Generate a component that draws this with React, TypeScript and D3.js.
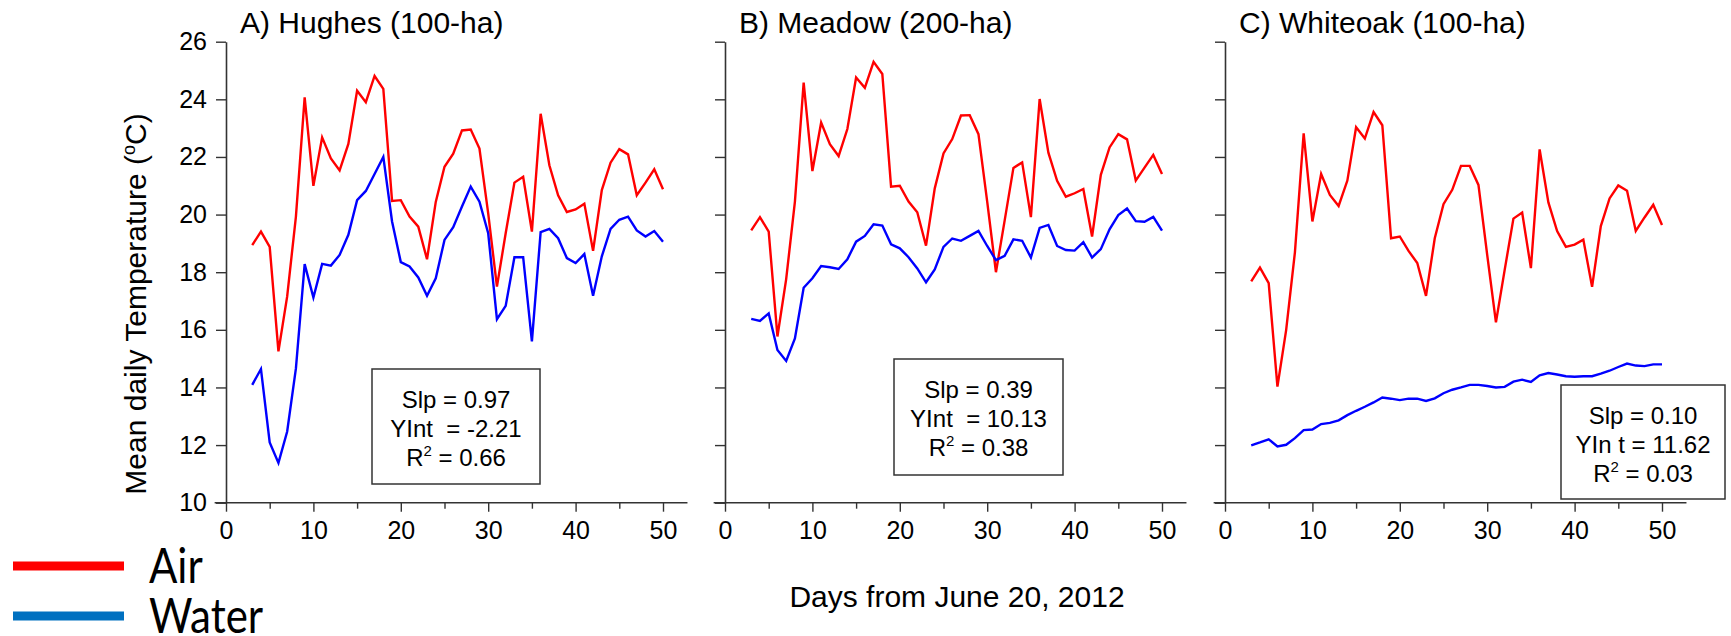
import { useEffect, useRef } from "react";
import * as d3 from "d3";

// chart size
const W = 1731;
const H = 636;

// days from June 20, 2012 (x values)
const days = [
  3, 4, 5, 6, 7, 8, 9, 10, 11, 12, 13, 14, 15, 16, 17, 18, 19, 20, 21, 22, 23, 24,
  25, 26, 27, 28, 29, 30, 31, 32, 33, 34, 35, 36, 37, 38, 39, 40, 41, 42, 43, 44, 45, 46, 47, 48, 49, 50,
];

const hughesAir = [
  18.94, 19.41, 18.88, 15.25, 17.16, 19.93, 24.07, 21.0, 22.68, 21.95, 21.53, 22.45, 24.3, 23.9, 24.81, 24.36, 20.47, 20.5, 19.93, 19.58, 18.45, 20.44,
  21.66, 22.11, 22.92, 22.95, 22.29, 20.04, 17.5, 19.35, 21.11, 21.31, 19.41, 23.5, 21.71, 20.67, 20.09, 20.18, 20.38, 18.74, 20.85, 21.8, 22.27, 22.09, 20.67, 21.11, 21.57, 20.88,
];
const hughesWater = [
  14.09, 14.64, 12.09, 11.38, 12.47, 14.66, 18.28, 17.12, 18.29, 18.23, 18.6, 19.3, 20.5, 20.82, 21.41, 22.0, 19.76, 18.35, 18.2, 17.82, 17.18, 17.79,
  19.12, 19.56, 20.28, 20.97, 20.45, 19.35, 16.37, 16.83, 18.52, 18.52, 15.6, 19.39, 19.5, 19.18, 18.49, 18.32, 18.63, 17.18, 18.55, 19.5, 19.82, 19.93, 19.45, 19.24, 19.43, 19.06,
];
const meadowAir = [
  19.45, 19.91, 19.41, 15.77, 17.76, 20.45, 24.58, 21.51, 23.19, 22.44, 22.03, 22.97, 24.76, 24.4, 25.3, 24.88, 20.97, 21.0, 20.45, 20.08, 18.92, 20.91,
  22.12, 22.62, 23.44, 23.45, 22.79, 20.45, 18.0, 19.8, 21.62, 21.81, 19.91, 24.01, 22.15, 21.17, 20.62, 20.74, 20.89, 19.24, 21.38, 22.33, 22.79, 22.61, 21.18, 21.63, 22.07, 21.41,
];
const meadowWater = [
  16.38, 16.31, 16.57, 15.3, 14.92, 15.7, 17.46, 17.79, 18.21, 18.17, 18.11, 18.45, 19.06, 19.26, 19.66, 19.62, 18.97, 18.83, 18.52, 18.13, 17.65, 18.1,
  18.88, 19.17, 19.09, 19.26, 19.43, 18.91, 18.42, 18.57, 19.14, 19.09, 18.51, 19.54, 19.64, 18.91, 18.77, 18.75, 19.04, 18.51, 18.8, 19.49, 19.98, 20.21, 19.77, 19.75, 19.92, 19.44,
];
const whiteoakAir = [
  17.68, 18.16, 17.62, 14.03, 16.0, 18.69, 22.82, 19.76, 21.41, 20.68, 20.3, 21.18, 23.03, 22.64, 23.56, 23.1, 19.18, 19.24, 18.74, 18.32, 17.18, 19.18,
  20.36, 20.86, 21.69, 21.69, 21.03, 18.6, 16.26, 18.08, 19.86, 20.07, 18.14, 22.26, 20.42, 19.43, 18.88, 18.96, 19.13, 17.49, 19.6, 20.56, 21.01, 20.83, 19.43, 19.9, 20.34, 19.64,
];
const whiteoakWater = [
  11.99, 12.09, 12.2, 11.95, 12.01, 12.24, 12.52, 12.54, 12.73, 12.77, 12.86, 13.04, 13.19, 13.33, 13.48, 13.65, 13.61, 13.56, 13.61, 13.61, 13.53, 13.62,
  13.8, 13.92, 14.0, 14.09, 14.09, 14.05, 14.0, 14.02, 14.2, 14.27, 14.19, 14.42, 14.5, 14.45, 14.39, 14.37, 14.39, 14.39, 14.48, 14.58, 14.71, 14.83, 14.76, 14.74, 14.8, 14.8,
];

const titles = ["A) Hughes (100-ha)", "B) Meadow (200-ha)", "C) Whiteoak (100-ha)"];
const slopes = ["0.97", "0.39", "0.10"];
const intercepts = ["-2.21", "10.13", "11.62"];
const intLabels = ["YInt  = ", "YInt  = ", "YIn t = "];
const rSquared = ["0.66", "0.38", "0.03"];

const yTicks = [10, 12, 14, 16, 18, 20, 22, 24, 26];
const xMajor = [0, 10, 20, 30, 40, 50];
const xMinor = [5, 15, 25, 35, 45];

// layout
const panelLeft = [226, 725, 1225];
const boxes = [
  { x: 372, y: 369, w: 168, h: 115 },
  { x: 894, y: 359, w: 169, h: 116 },
  { x: 1561, y: 385, w: 164, h: 114 },
];
const FONT = "'Liberation Sans', Arial, sans-serif";
const AIR = "#ff0000";
const WATER = "#0000ff";

const App = () => {
  const ref = useRef<SVGSVGElement | null>(null);

  useEffect(() => {
    const svg = d3.select(ref.current);
    svg.selectAll("*").remove();

    const x = d3.scaleLinear().domain([0, 50]).range([0, 437]);
    const y = d3.scaleLinear().domain([10, 26]).range([502.7, 41.7]);

    const series = [
      [hughesAir, hughesWater],
      [meadowAir, meadowWater],
      [whiteoakAir, whiteoakWater],
    ];

    const line = d3.line<number>()
      .x((d, i) => x(days[i]))
      .y((d) => y(d));

    series.forEach(([air, water], p) => {
      const g = svg.append("g").attr("transform", `translate(${panelLeft[p]},0)`);

      // y axis
      const yAxis = d3.axisLeft(y)
        .tickValues(yTicks)
        .tickSize(10)
        .tickSizeOuter(0)
        .tickPadding(9)
        .tickFormat((d) => (p === 0 ? String(d) : ""));
      const ya = g.append("g").call(yAxis);
      ya.select(".domain").attr("stroke", "#333").attr("stroke-width", 1.6);
      ya.selectAll(".tick line").attr("stroke", "#333").attr("stroke-width", 1.4);
      ya.selectAll(".tick text")
        .attr("font-family", FONT)
        .attr("font-size", 25)
        .attr("fill", "#000");

      // x axis line
      g.append("line")
        .attr("x1", x(-1.3))
        .attr("x2", x(52.8))
        .attr("y1", y(10))
        .attr("y2", y(10))
        .attr("stroke", "#333")
        .attr("stroke-width", 1.6);

      const xa = g.append("g").attr("transform", `translate(0,${y(10)})`)
        .call(d3.axisBottom(x).tickValues(xMajor).tickSize(9).tickSizeOuter(0).tickPadding(10));
      xa.select(".domain").remove();
      xa.selectAll(".tick line").attr("stroke", "#333").attr("stroke-width", 1.4);
      xa.selectAll(".tick text")
        .attr("font-family", FONT)
        .attr("font-size", 25)
        .attr("fill", "#000");

      const xm = g.append("g").attr("transform", `translate(0,${y(10)})`)
        .call(d3.axisBottom(x).tickValues(xMinor).tickSize(6).tickFormat(() => ""));
      xm.select(".domain").remove();
      xm.selectAll(".tick line").attr("stroke", "#333").attr("stroke-width", 1.4);

      // data lines
      g.append("path")
        .datum(air)
        .attr("d", line)
        .attr("fill", "none")
        .attr("stroke", AIR)
        .attr("stroke-width", 2.4);
      g.append("path")
        .datum(water)
        .attr("d", line)
        .attr("fill", "none")
        .attr("stroke", WATER)
        .attr("stroke-width", 2.4);

      // title
      svg.append("text")
        .attr("x", panelLeft[p] + 14)
        .attr("y", 33)
        .attr("font-family", FONT)
        .attr("font-size", 30)
        .text(titles[p]);

      // stats box
      const b = boxes[p];
      svg.append("rect")
        .attr("x", b.x)
        .attr("y", b.y)
        .attr("width", b.w)
        .attr("height", b.h)
        .attr("fill", "#fff")
        .attr("stroke", "#333")
        .attr("stroke-width", 1.5);
      const cx = b.x + b.w / 2;
      const t = svg.append("g")
        .attr("font-family", FONT)
        .attr("font-size", 24)
        .attr("text-anchor", "middle");
      t.append("text").attr("x", cx).attr("y", b.y + 39).text(`Slp = ${slopes[p]}`);
      t.append("text").attr("x", cx).attr("y", b.y + 68).text(`${intLabels[p]}${intercepts[p]}`)
        .attr("xml:space", "preserve").style("white-space", "pre");
      const r = t.append("text").attr("x", cx).attr("y", b.y + 97);
      r.append("tspan").text("R");
      r.append("tspan").attr("font-size", 15).attr("dy", -10).text("2");
      r.append("tspan").attr("dy", 10).text(` = ${rSquared[p]}`);
    });

    // y axis label
    const yl = svg.append("text")
      .attr("transform", "translate(146,304) rotate(-90)")
      .attr("text-anchor", "middle")
      .attr("font-family", FONT)
      .attr("font-size", 30);
    yl.append("tspan").text("Mean daily Temperature (");
    yl.append("tspan").attr("font-size", 18).attr("dy", -11).text("o");
    yl.append("tspan").attr("dy", 11).text("C)");

    // x axis label
    svg.append("text")
      .attr("x", 957)
      .attr("y", 607)
      .attr("text-anchor", "middle")
      .attr("font-family", FONT)
      .attr("font-size", 30)
      .text("Days from June 20, 2012");

    // legend
    const legend = [
      { name: "Air", color: "#ff0000", y: 566 },
      { name: "Water", color: "#0070c0", y: 616 },
    ];
    legend.forEach((l) => {
      svg.append("line")
        .attr("x1", 13)
        .attr("x2", 124)
        .attr("y1", l.y)
        .attr("y2", l.y)
        .attr("stroke", l.color)
        .attr("stroke-width", 9);
      svg.append("text")
        .attr("transform", `translate(149,${l.y + 17}) scale(1,1.16)`)
        .attr("font-family", "Lato, 'Liberation Sans', sans-serif")
        .attr("font-size", 42)
        .text(l.name);
    });
  }, []);

  return (
    <svg
      ref={ref}
      width={W}
      height={H}
      viewBox={`0 0 ${W} ${H}`}
      style={{ position: "absolute", left: 0, top: 0, background: "#fff" }}
    />
  );
};

export default App;
